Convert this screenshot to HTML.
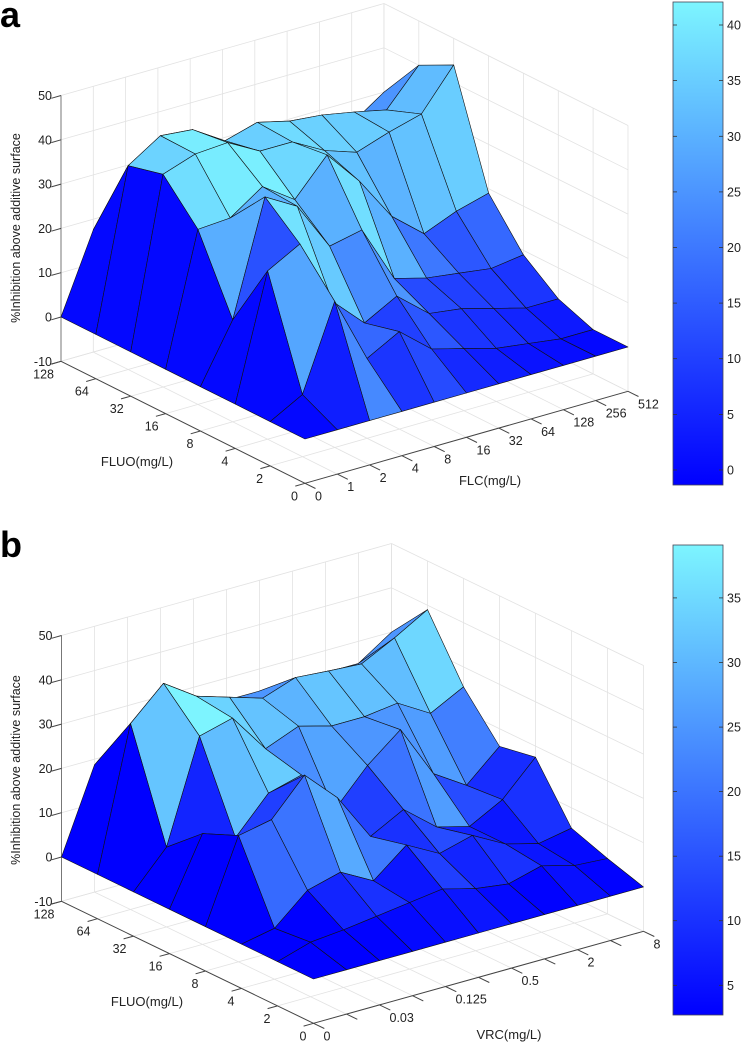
<!DOCTYPE html>
<html><head><meta charset="utf-8"><title>Inhibition surfaces</title>
<style>
body{margin:0;background:#fff;}
svg{display:block;font-family:"Liberation Sans",sans-serif;}
</style></head>
<body>
<svg id="fig" width="742" height="1049" viewBox="0 0 742 1049" xmlns="http://www.w3.org/2000/svg">
<defs>
<linearGradient id="cmap" x1="0" y1="1" x2="0" y2="0">
<stop offset="0" stop-color="rgb(0,0,255)"/>
<stop offset="1" stop-color="rgb(125,245,255)"/>
</linearGradient>
</defs>
<rect width="742" height="1049" fill="#fff"/>
<text x="0" y="27" font-size="36" font-weight="bold">a</text>
<text x="0" y="557" font-size="36" font-weight="bold">b</text>
<g id="panelA"></g>
<g id="panelB"></g>
</svg>
<script>
// ---- data: panel a (rows = FLUO index 0..7, cols = FLC index 0..10)
const fluoTicksA = ['0','2','4','8','16','32','64','128'];
const flcTicksA = ['0','1','2','4','8','16','32','64','128','256','512'];
const zTicks = [-10,0,10,20,30,40,50];
const surfaceA = [
 [0,0,0,0,0,0,0,0,0,0,0],
 [0,4,23,8,12,6,4,2,1,0,0],
 [0,28,32,17,10,14,8,7,5,3,3],
 [0,13,38.7,34.5,23.4,25,12,10,9,8,9],
 [0,29.5,30,35,30,38,30,20,14,17,19],
 [0,38,40.5,41,37,37,33,30.5,33,35,44],
 [0,36,40.7,40,35.4,37.5,35.7,35,33.6,32,40],
 [0,17.6,25,25,25,25,25,25,25,25,30]
];
const cbTicksA = [0,5,10,15,20,25,30,35,40];
const cbRangeA = [-1.35,42.07];

// ---- data: panel b (rows = FLUO index 0..7, cols = VRC index 0..10)
const fluoTicksB = ['0','2','4','8','16','32','64','128'];
const vrcTicksB = ['0','','0.03','','0.125','','0.5','','2','','8'];
const surfaceB = [
 [0,0,0,0,0,0,0,0,0,0,0],
 [0,2.3,3,4,5,6,4,3,5,3,2.5],
 [0,1.5,8,10,6,12,8,10,6,4,5.4],
 [0,18.5,20,28,20.8,10,14,8,6,10,17.5],
 [0,15,12,20,22,12,20,26,14,9.3,16],
 [0,8,31,33,24,27,25,25,26,21.6,25.5],
 [0,32,39,34,31.7,29.4,32,31.4,30.9,34.7,39],
 [0,18.7,25,25,25,25,25,25,25,25,30]
];
const cbTicksB = [5,10,15,20,25,30,35];
const cbRangeB = [2.7,39.1];

const NS = 'http://www.w3.org/2000/svg';
function mk(tag, attrs, parent){
  const e = document.createElementNS(NS, tag);
  for (const k in attrs) e.setAttribute(k, attrs[k]);
  parent.appendChild(e);
  return e;
}
function cmapColor(v, rng){
  let t = (v - rng[0])/(rng[1]-rng[0]);
  t = Math.max(0, Math.min(1, t));
  return 'rgb(' + Math.round(125*t) + ',' + Math.round(245*t) + ',255)';
}

function buildPanel(g, cfg){
  const P = (i,j,z) => [cfg.ox + i*cfg.ex[0] + j*cfg.ey[0], cfg.oy + i*cfg.ex[1] + j*cfg.ey[1] - z*cfg.zs];
  const Z = cfg.surface;
  const nj = Z.length, ni = Z[0].length;
  const zmin = zTicks[0], zmax = zTicks[zTicks.length-1];
  const line = (a,b,stroke,w,name) => {
    const l = mk('line',{x1:a[0].toFixed(1),y1:a[1].toFixed(1),x2:b[0].toFixed(1),y2:b[1].toFixed(1),stroke:stroke,'stroke-width':w},g);
    
    
    return l;
  };
  const grid = '#e2e2e2';
  for (let i=0;i<ni;i++) line(P(i,nj-1,zmin),P(i,nj-1,zmax),grid,0.8,'grid-line');
  for (const z of zTicks) line(P(0,nj-1,z),P(ni-1,nj-1,z),grid,0.8,'grid-line');
  for (let j=0;j<nj;j++) line(P(ni-1,j,zmin),P(ni-1,j,zmax),grid,0.8,'grid-line');
  for (const z of zTicks) line(P(ni-1,0,z),P(ni-1,nj-1,z),grid,0.8,'grid-line');
  for (let i=0;i<ni;i++) line(P(i,0,zmin),P(i,nj-1,zmin),grid,0.8,'grid-line');
  for (let j=0;j<nj;j++) line(P(0,j,zmin),P(ni-1,j,zmin),grid,0.8,'grid-line');
  line(P(0,nj-1,zmin),P(0,nj-1,zmax),'#777',1,'z-axis');
  line(P(0,0,zmin),P(0,nj-1,zmin),'#444',1,'fluo-axis');
  line(P(0,0,zmin),P(ni-1,0,zmin),'#444',1,'x-axis');
  for (const z of zTicks){
    const a = P(0,nj-1,z), b = P(-0.3,nj-1,z);
    line(a,b,'#444',1,'z-tick');
    const t = mk('text',{x:(a[0]-9).toFixed(1),y:(a[1]+4.5).toFixed(1),'font-size':'12.5','text-anchor':'end',fill:'#222'},g);
    t.textContent = String(z);
    
    
  }
  for (let j=0;j<nj;j++){
    const a = P(0,j,zmin), b = P(-0.3,j,zmin);
    line(a,b,'#444',1,'fluo-tick');
    const t = mk('text',{x:(a[0]-7).toFixed(1),y:(a[1]+17).toFixed(1),'font-size':'12.5','text-anchor':'end',fill:'#222'},g);
    t.textContent = cfg.yTicks[j];
    
    
  }
  for (let i=0;i<ni;i++){
    const a = P(i,0,zmin), b = P(i,-0.3,zmin);
    line(a,b,'#444',1,'x-tick');
    if (cfg.xTicks[i] !== ''){
      const t = mk('text',{x:(a[0]+10).toFixed(1),y:(a[1]+17).toFixed(1),'font-size':'12.5','text-anchor':'start',fill:'#222'},g);
      t.textContent = cfg.xTicks[i];
      
      
    }
  }
  const faces = [];
  for (let j=0;j<nj-1;j++) for (let i=0;i<ni-1;i++){
    const d = P(i+0.5,j+0.5,0)[1];
    faces.push({i:i,j:j,d:d});
  }
  faces.sort((a,b)=>a.d-b.d);
  const sg = mk('g',{},g);
  
  
  for (const f of faces){
    const i=f.i, j=f.j;
    const pts = [P(i,j,Z[j][i]),P(i+1,j,Z[j][i+1]),P(i+1,j+1,Z[j+1][i+1]),P(i,j+1,Z[j+1][i])];
    const poly = mk('polygon',{points:pts.map(p=>p[0].toFixed(1)+','+p[1].toFixed(1)).join(' '),
      fill:cmapColor(Z[j+1][i],cfg.cbRange),stroke:'#111','stroke-width':'0.6','stroke-linejoin':'round'},sg);
    
    
  }
  const zt = mk('text',{x:0,y:0,'font-size':'12.5','text-anchor':'middle',fill:'#222',transform:'translate(20,'+cfg.zTitleY+') rotate(-90)'},g);
  zt.textContent = '%Inhibition above additive surface';
  
  
  const yt = mk('text',{x:cfg.yTitle[0],y:cfg.yTitle[1],'font-size':'13','text-anchor':'middle',fill:'#222'},g);
  yt.textContent = 'FLUO(mg/L)';
  
  
  const xt = mk('text',{x:cfg.xTitle[0],y:cfg.xTitle[1],'font-size':'13','text-anchor':'middle',fill:'#222'},g);
  xt.textContent = cfg.xName;
  
  
  const cb = cfg.cb;
  const cbr = mk('rect',{x:cb.x,y:cb.y0,width:cb.w,height:cb.y1-cb.y0,fill:'url(#cmap)',stroke:'#445','stroke-width':'0.8'},g);
  
  
  const vy = v => cb.y1 - (v - cfg.cbRange[0])/(cfg.cbRange[1]-cfg.cbRange[0])*(cb.y1-cb.y0);
  for (const v of cfg.cbTicks){
    const y = vy(v);
    line([cb.x,y],[cb.x+4,y],'#333',0.8,'colorbar-tick');
    line([cb.x+cb.w-4,y],[cb.x+cb.w,y],'#333',0.8,'colorbar-tick');
    const t = mk('text',{x:cb.x+cb.w+4,y:(y+4.5).toFixed(1),'font-size':'12.5',fill:'#222'},g);
    t.textContent = String(v);
    
    
  }
}

buildPanel(document.getElementById('panelA'), {
  ox:305, oy:439, ex:[32.3,-9.2], ey:[-34.86,-17.43], zs:4.43,
  surface:surfaceA, xTicks:flcTicksA, yTicks:fluoTicksA, xName:'FLC(mg/L)',
  cbTicks:cbTicksA, cbRange:cbRangeA,
  cb:{x:673,w:50,y0:2,y1:485},
  zTitleY:228, yTitle:[137,466], xTitle:[490,485]
});
buildPanel(document.getElementById('panelB'), {
  ox:313.5, oy:979, ex:[33,-9.2], ey:[-36,-17.43], zs:4.43,
  surface:surfaceB, xTicks:vrcTicksB, yTicks:fluoTicksB, xName:'VRC(mg/L)',
  cbTicks:cbTicksB, cbRange:cbRangeB,
  cb:{x:673,w:50,y0:545,y1:1015},
  zTitleY:770, yTitle:[147,1006], xTitle:[509,1039]
});
</script>
</body></html>
